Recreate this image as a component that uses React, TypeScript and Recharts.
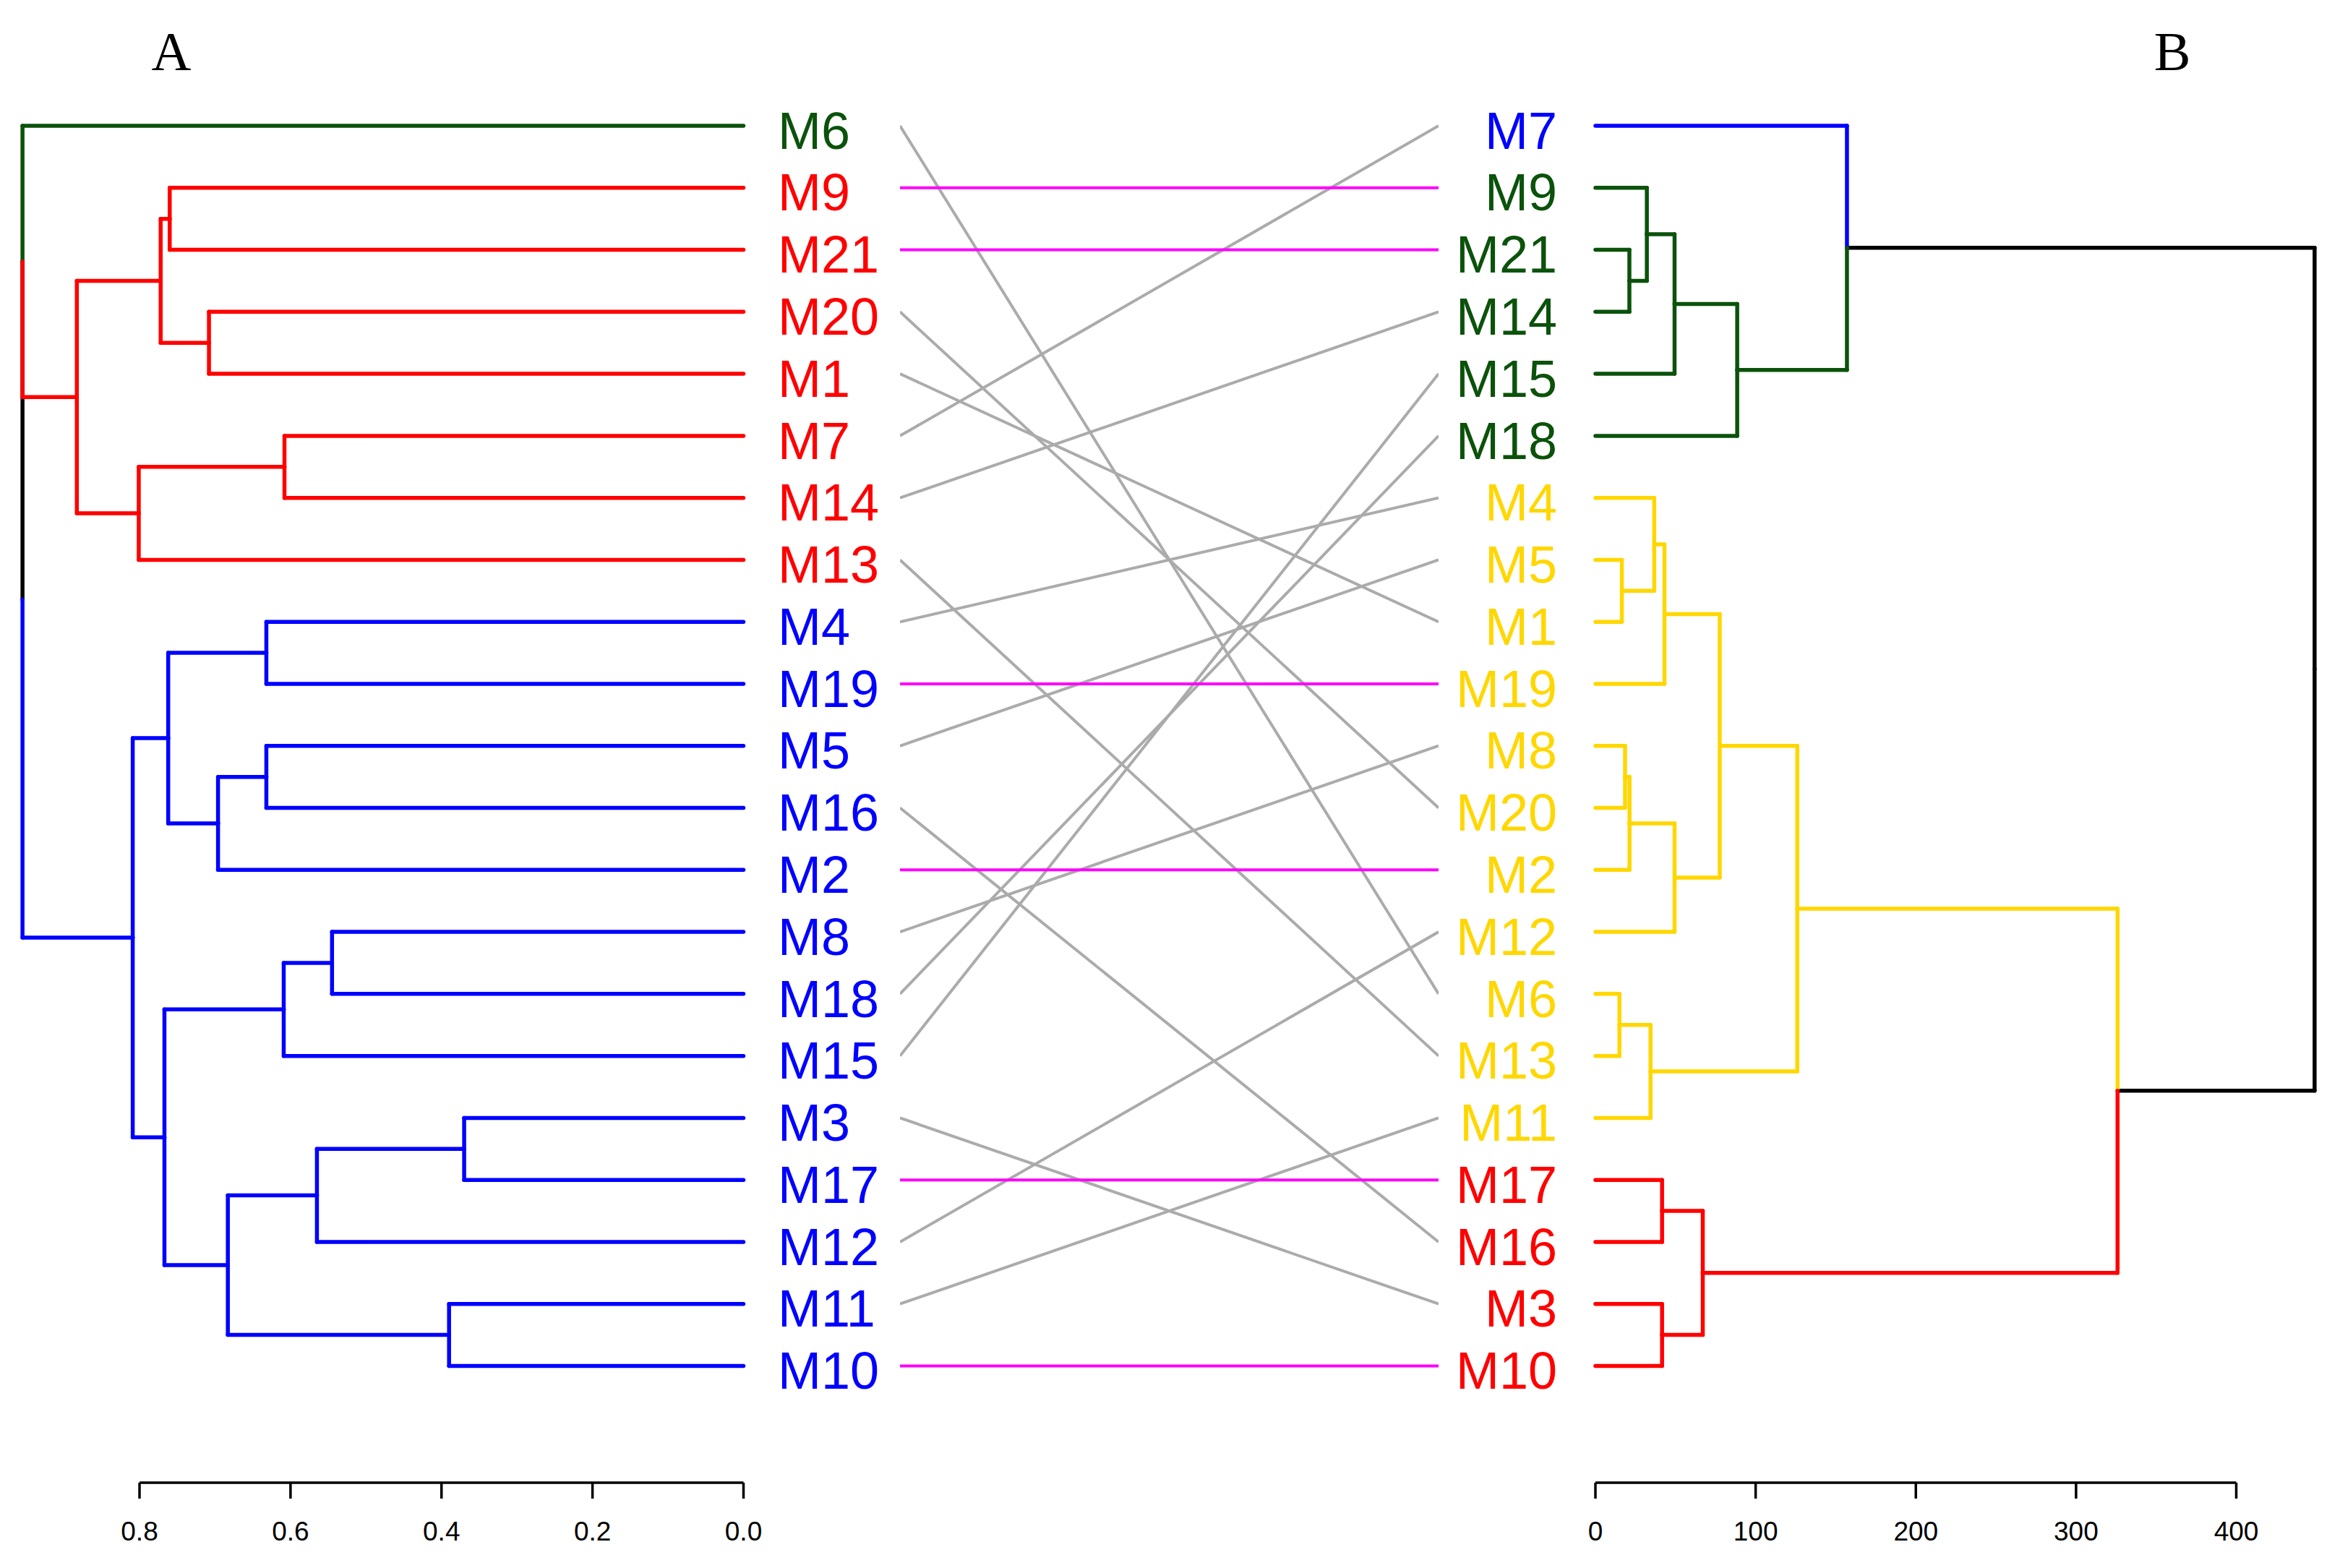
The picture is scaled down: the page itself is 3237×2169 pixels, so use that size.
import React from 'react';
import { ComposedChart, Line, Scatter, XAxis, YAxis, ReferenceLine } from 'recharts';

// ---------- colours ----------
const GREEN = '#0B520B';
const RED = '#FF0000';
const BLUE = '#0000FF';
const GOLD = '#FFD700';
const BLACK = '#000000';
const MAGENTA = '#FF00FF';
const GRAY = '#ABABAB';

// ---------- data: left dendrogram (A) ----------
const LEFT_LEAVES = ['M6', 'M9', 'M21', 'M20', 'M1', 'M7', 'M14', 'M13', 'M4', 'M19', 'M5', 'M16', 'M2', 'M8', 'M18', 'M15', 'M3', 'M17', 'M12', 'M11', 'M10'];
const LEFT_LEAF_COLORS = [GREEN, RED, RED, RED, RED, RED, RED, RED, BLUE, BLUE, BLUE, BLUE, BLUE, BLUE, BLUE, BLUE, BLUE, BLUE, BLUE, BLUE, BLUE];
// [child A, child B, merge height]; "#k" refers to the k-th merge
const LEFT_MERGES: [string, string, number][] = [
  ['M9', 'M21', 0.760],
  ['M20', 'M1', 0.708],
  ['#0', '#1', 0.772],
  ['M7', 'M14', 0.608],
  ['#3', 'M13', 0.801],
  ['#2', '#4', 0.883],
  ['M6', '#5', 0.955],
  ['M4', 'M19', 0.632],
  ['M5', 'M16', 0.632],
  ['#8', 'M2', 0.696],
  ['#7', '#9', 0.762],
  ['M8', 'M18', 0.545],
  ['#11', 'M15', 0.609],
  ['M3', 'M17', 0.370],
  ['#13', 'M12', 0.565],
  ['M11', 'M10', 0.390],
  ['#14', '#15', 0.683],
  ['#12', '#16', 0.767],
  ['#10', '#17', 0.809],
  ['#6', '#18', 0.955],
];
const LEFT_TICKS = [0, 0.2, 0.4, 0.6, 0.8];

// ---------- data: right dendrogram (B) ----------
const RIGHT_LEAVES = ['M7', 'M9', 'M21', 'M14', 'M15', 'M18', 'M4', 'M5', 'M1', 'M19', 'M8', 'M20', 'M2', 'M12', 'M6', 'M13', 'M11', 'M17', 'M16', 'M3', 'M10'];
const RIGHT_LEAF_COLORS = [BLUE, GREEN, GREEN, GREEN, GREEN, GREEN, GOLD, GOLD, GOLD, GOLD, GOLD, GOLD, GOLD, GOLD, GOLD, GOLD, GOLD, RED, RED, RED, RED];
const RIGHT_MERGES: [string, string, number][] = [
  ['M21', 'M14', 21.2],
  ['M9', '#0', 32.1],
  ['#1', 'M15', 49.4],
  ['#2', 'M18', 88.5],
  ['M7', '#3', 157],
  ['M5', 'M1', 16.5],
  ['M4', '#5', 36.7],
  ['#6', 'M19', 43.1],
  ['M8', 'M20', 18.5],
  ['#8', 'M2', 21.3],
  ['#9', 'M12', 49.4],
  ['#7', '#10', 77.6],
  ['M6', 'M13', 15.0],
  ['#12', 'M11', 34.4],
  ['#11', '#13', 126],
  ['M17', 'M16', 41.6],
  ['M3', 'M10', 41.6],
  ['#15', '#16', 67.0],
  ['#14', '#17', 325.9],
  ['#4', '#18', 448.9],
];
const RIGHT_TICKS = [0, 100, 200, 300, 400];

const ROWS = LEFT_LEAVES.map((_, i) => i);
const LEAF_TIPS = ROWS.map((i) => ({ x: 0, y: i }));

// ---------- layout ----------
const W = 3237;
const H = 2169;
const ROW_TOP = 174;
const AXIS_Y = 2051;
const ROW_PAD_BOTTOM = 161.5;
const XAXIS_H = 100;
const LABEL_FONT = '"Liberation Sans", Arial, sans-serif';

type Seg = { p: { x: number; y: number }[]; color: string };

function buildSegments(leaves: string[], colors: string[], merges: [string, string, number][]): Seg[] {
  const pos: Record<string, { h: number; y: number; color: string }> = {};
  leaves.forEach((n, i) => {
    pos[n] = { h: 0, y: i, color: colors[i] };
  });
  const groups: Seg[][] = [];
  merges.forEach(([a, b, h], k) => {
    const A = pos[a];
    const B = pos[b];
    const y = (A.y + B.y) / 2;
    const color = A.color === B.color ? A.color : BLACK;
    const g: Seg[] = [];
    [A, B].forEach((C) => {
      g.push({ p: [{ x: C.h, y: C.y }, { x: h, y: C.y }], color: C.color });
      g.push({ p: [{ x: h, y: C.y }, { x: h, y }], color: C.color });
    });
    groups.push(g);
    pos['#' + k] = { h, y, color };
  });
  // parents are drawn first, children on top (as in R's plot.dendrogram)
  return groups.reverse().flat();
}

const leftSegs = buildSegments(LEFT_LEAVES, LEFT_LEAF_COLORS, LEFT_MERGES);
const rightSegs = buildSegments(RIGHT_LEAVES, RIGHT_LEAF_COLORS, RIGHT_MERGES);

const links = LEFT_LEAVES.map((name, i) => {
  const j = RIGHT_LEAVES.indexOf(name);
  return { name, data: [{ x: 0, y: i }, { x: 1, y: j }], color: i === j ? MAGENTA : GRAY };
});
const linksOrdered = [...links.filter((l) => l.color === GRAY), ...links.filter((l) => l.color === MAGENTA)];

const AxisTick = (props: any) => {
  const { x, y, payload, fmt } = props;
  return (
    <text x={x} y={y} dy="0.71em" textAnchor="middle" fontSize={37} fontFamily={LABEL_FONT} fill="#000">
      {fmt(payload.value)}
    </text>
  );
};

const LeafTick = (props: any) => {
  const { x, y, payload, leaves, colors, anchor } = props;
  const i = payload.value;
  return (
    <text x={x} y={y} dy="0.44em" textAnchor={anchor} fontSize={72} fontFamily={LABEL_FONT} fill={colors[i]}>
      {leaves[i]}
    </text>
  );
};

const NoShape = () => <g />;

const axisStroke = { stroke: '#000', strokeWidth: 3.5 };

export default function App() {
  return (
    <div style={{ position: 'absolute', left: 0, top: 0, width: W, height: H, background: '#fff', overflow: 'hidden' }}>
      {/* Left dendrogram */}
      <div style={{ position: 'absolute', left: 0, top: 0 }}>
        <ComposedChart width={1245} height={H} margin={{ top: ROW_TOP, left: 193, right: 16.5, bottom: H - AXIS_Y - XAXIS_H }}>
          <XAxis
            type="number"
            dataKey="x"
            domain={[0, 0.8]}
            reversed
            ticks={LEFT_TICKS}
            interval={0}
            height={XAXIS_H}
            axisLine={axisStroke}
            tickLine={axisStroke}
            tickSize={22}
            tickMargin={32}
            tick={(p: any) => <AxisTick {...p} fmt={(v: number) => v.toFixed(1)} />}
          />
          <YAxis
            type="number"
            dataKey="y"
            orientation="right"
            domain={[0, 20]}
            reversed
            ticks={ROWS}
            interval={0}
            width={200}
            padding={{ top: 0, bottom: ROW_PAD_BOTTOM }}
            axisLine={false}
            tickLine={false}
            tickSize={0}
            tickMargin={47.5}
            tick={(p: any) => <LeafTick {...p} leaves={LEFT_LEAVES} colors={LEFT_LEAF_COLORS} anchor="start" />}
          />
          <Scatter data={LEAF_TIPS} dataKey="y" shape={NoShape} isAnimationActive={false} />
          {leftSegs.map((s, k) => (
            <ReferenceLine key={k} segment={s.p} stroke={s.color} strokeWidth={5.5} strokeLinecap="round" ifOverflow="visible" />
          ))}
        </ComposedChart>
      </div>

      {/* Connecting lines */}
      <div style={{ position: 'absolute', left: 1245, top: 0 }}>
        <ComposedChart width={745} height={H} margin={{ top: ROW_TOP, left: 0, right: 0, bottom: H - AXIS_Y }}>
          <XAxis type="number" dataKey="x" domain={[0, 1]} hide />
          <YAxis type="number" domain={[0, 20]} reversed hide padding={{ top: 0, bottom: ROW_PAD_BOTTOM }} />
          {linksOrdered.map((l) => (
            <Line
              key={l.name}
              data={l.data}
              dataKey="y"
              type="linear"
              stroke={l.color}
              strokeWidth={4}
              dot={false}
              activeDot={false}
              isAnimationActive={false}
            />
          ))}
        </ComposedChart>
      </div>

      {/* Right dendrogram */}
      <div style={{ position: 'absolute', left: 1990, top: 0 }}>
        <ComposedChart width={W - 1990} height={H} margin={{ top: ROW_TOP, left: 0, right: 143.5, bottom: H - AXIS_Y - XAXIS_H }}>
          <XAxis
            type="number"
            dataKey="x"
            domain={[0, 400]}
            ticks={RIGHT_TICKS}
            interval={0}
            height={XAXIS_H}
            axisLine={axisStroke}
            tickLine={axisStroke}
            tickSize={22}
            tickMargin={32}
            tick={(p: any) => <AxisTick {...p} fmt={(v: number) => String(v)} />}
          />
          <YAxis
            type="number"
            dataKey="y"
            orientation="left"
            domain={[0, 20]}
            reversed
            ticks={ROWS}
            interval={0}
            width={217}
            padding={{ top: 0, bottom: ROW_PAD_BOTTOM }}
            axisLine={false}
            tickLine={false}
            tickSize={0}
            tickMargin={53}
            tick={(p: any) => <LeafTick {...p} leaves={RIGHT_LEAVES} colors={RIGHT_LEAF_COLORS} anchor="end" />}
          />
          <Scatter data={LEAF_TIPS} dataKey="y" shape={NoShape} isAnimationActive={false} />
          {rightSegs.map((s, k) => (
            <ReferenceLine key={k} segment={s.p} stroke={s.color} strokeWidth={5.5} strokeLinecap="round" ifOverflow="visible" />
          ))}
        </ComposedChart>
      </div>

      {/* Panel letters */}
      <svg width={W} height={140} style={{ position: 'absolute', left: 0, top: 0 }}>
        <text x={237} y={96.5} textAnchor="middle" fontSize={76} fontFamily='"Liberation Serif", "Times New Roman", serif' fill="#000">A</text>
        <text x={3005} y={96.7} textAnchor="middle" fontSize={76} fontFamily='"Liberation Serif", "Times New Roman", serif' fill="#000">B</text>
      </svg>
    </div>
  );
}
